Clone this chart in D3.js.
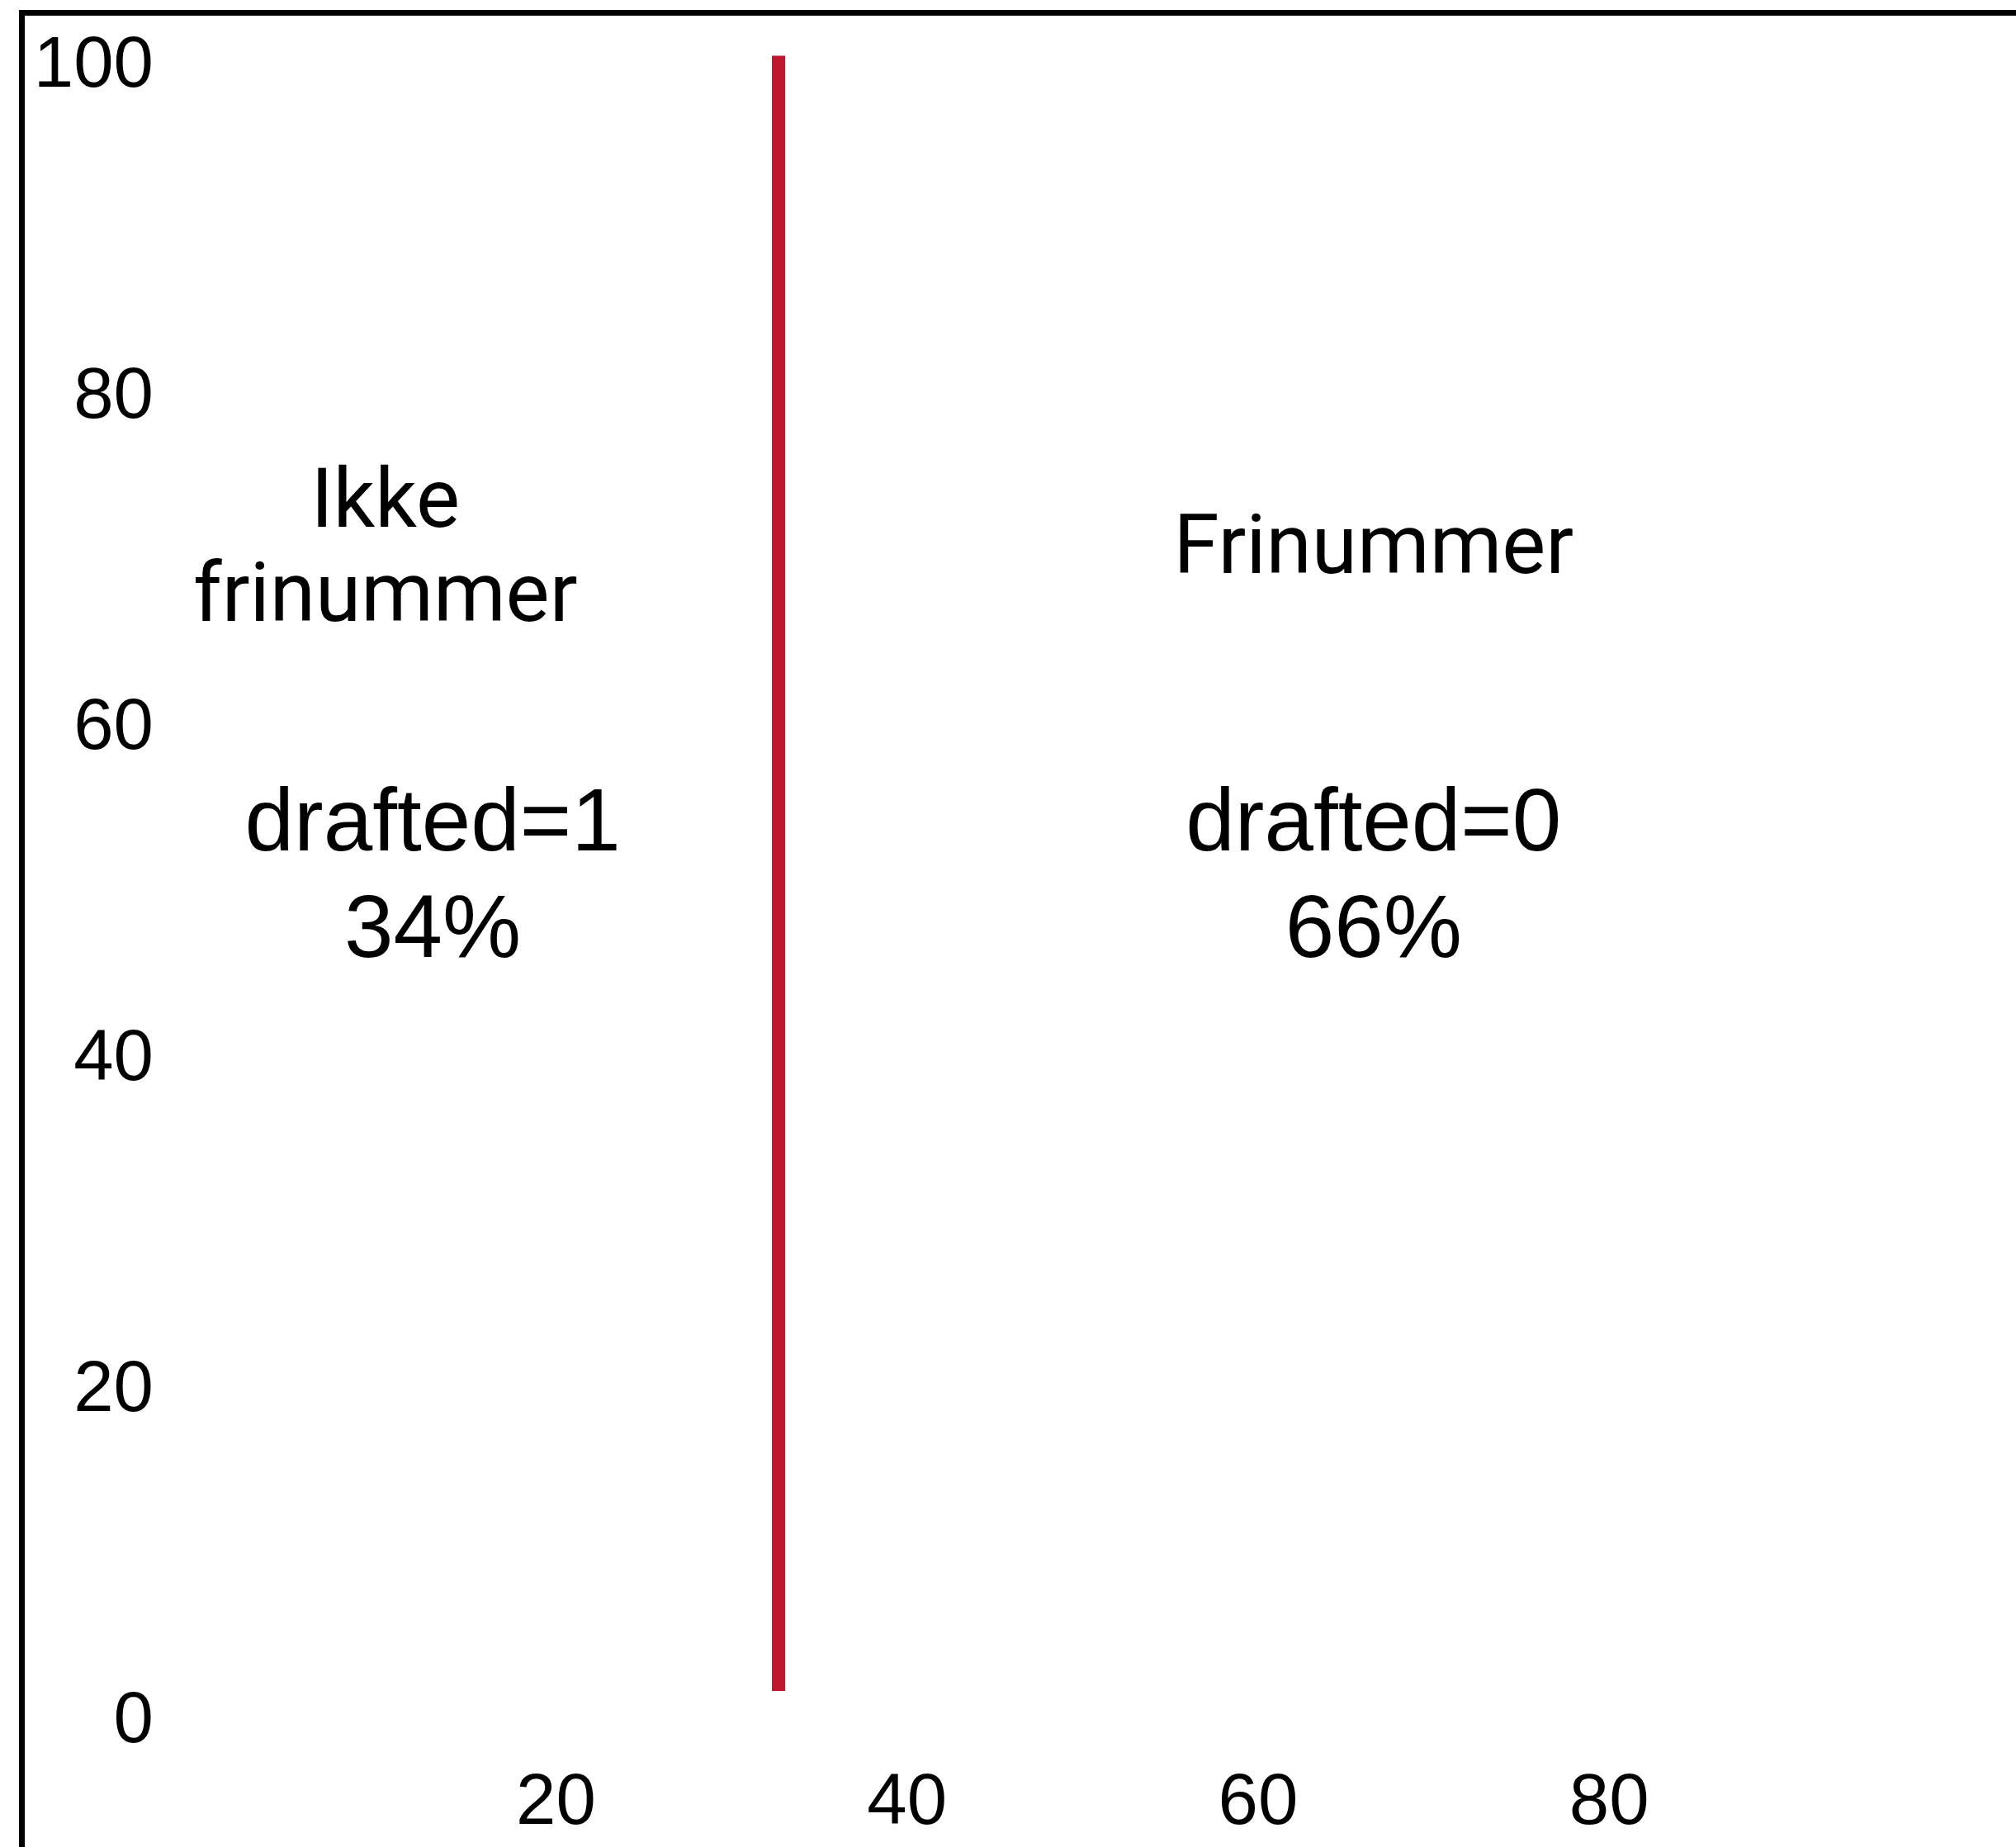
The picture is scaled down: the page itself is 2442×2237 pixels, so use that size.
<!DOCTYPE html>
<html>
<head>
<meta charset="utf-8">
<script src="https://cdn.jsdelivr.net/npm/d3@7"></script>
<style>
  html, body { margin: 0; padding: 0; background: #fff; overflow: hidden; }
  svg { display: block; }
</style>
</head>
<body>
<script>
// ---- data ----
const yTickValues = [0, 20, 40, 60, 80, 100];
const xTickValues = [20, 40, 60, 80];
const splitX = 32.7;              // position of the dividing line (x units)
const splitYRange = [1.5, 100.3]; // vertical extent of the dividing line (y units)
const groupNames = [["Ikke", "frinummer"], ["Frinummer"]];
const draftedLabels = ["drafted=1", "drafted=0"];
const draftedShares = [34, 66];
// annotation anchor positions (x units) for the two sides
const groupLabelX = [10.3, 66.6];
const shareLabelX = [13.0, 66.6];

// ---- layout ----
const W = 2442, H = 2237;
const svg = d3.select("body").append("svg").attr("width", W).attr("height", H);

const x = d3.scaleLinear().domain([0, 100]).range([247.7, 2374]);
const y = d3.scaleLinear().domain([0, 100]).range([2078, 73.5]);

// frame (top and left edges visible; extends beyond the image)
svg.append("rect")
  .attr("x", 26.5).attr("y", 15.5)
  .attr("width", 4000).attr("height", 4000)
  .attr("fill", "none").attr("stroke", "#000").attr("stroke-width", 7);

// y axis labels
const yAxis = svg.append("g")
  .attr("transform", "translate(186,0)")
  .call(d3.axisLeft(y).tickValues(yTickValues).tickSize(0).tickPadding(0).tickFormat(d3.format("d")));
yAxis.select(".domain").remove();
yAxis.selectAll("text")
  .attr("x", 0).attr("dy", 31)
  .style("font-family", "'Liberation Sans', Arial, sans-serif")
  .style("font-size", "87px").attr("fill", "#000");

// x axis labels
const xAxis = svg.append("g")
  .attr("transform", "translate(0,2209)")
  .call(d3.axisBottom(x).tickValues(xTickValues).tickSize(0).tickPadding(0).tickFormat(d3.format("d")));
xAxis.select(".domain").remove();
xAxis.selectAll("text")
  .attr("y", 0).attr("dy", 0)
  .style("font-family", "'Liberation Sans', Arial, sans-serif")
  .style("font-size", "87px").attr("fill", "#000");

// dividing line
svg.append("line")
  .attr("x1", x(splitX)).attr("x2", x(splitX))
  .attr("y1", y(splitYRange[0])).attr("y2", y(splitYRange[1]))
  .attr("stroke", "#BF182C").attr("stroke-width", 16);

// group name labels
const groupBaselines = [[638, 752], [694]];
groupNames.forEach((lines, i) => {
  const t = svg.append("text")
    .attr("text-anchor", "middle")
    .style("font-family", "Roboto, sans-serif")
    .style("font-size", "100px").attr("fill", "#000");
  lines.forEach((ln, j) => {
    t.append("tspan").attr("x", x(groupLabelX[i])).attr("y", groupBaselines[i][j]).text(ln);
  });
});

// drafted share labels
draftedLabels.forEach((lab, i) => {
  const t = svg.append("text")
    .attr("text-anchor", "middle")
    .style("font-family", "'Liberation Sans', Arial, sans-serif")
    .style("font-size", "107px").attr("fill", "#000");
  t.append("tspan").attr("x", x(shareLabelX[i])).attr("y", 1030).text(lab);
  t.append("tspan").attr("x", x(shareLabelX[i])).attr("y", 1159).text(draftedShares[i] + "%");
});
</script>
</body>
</html>
